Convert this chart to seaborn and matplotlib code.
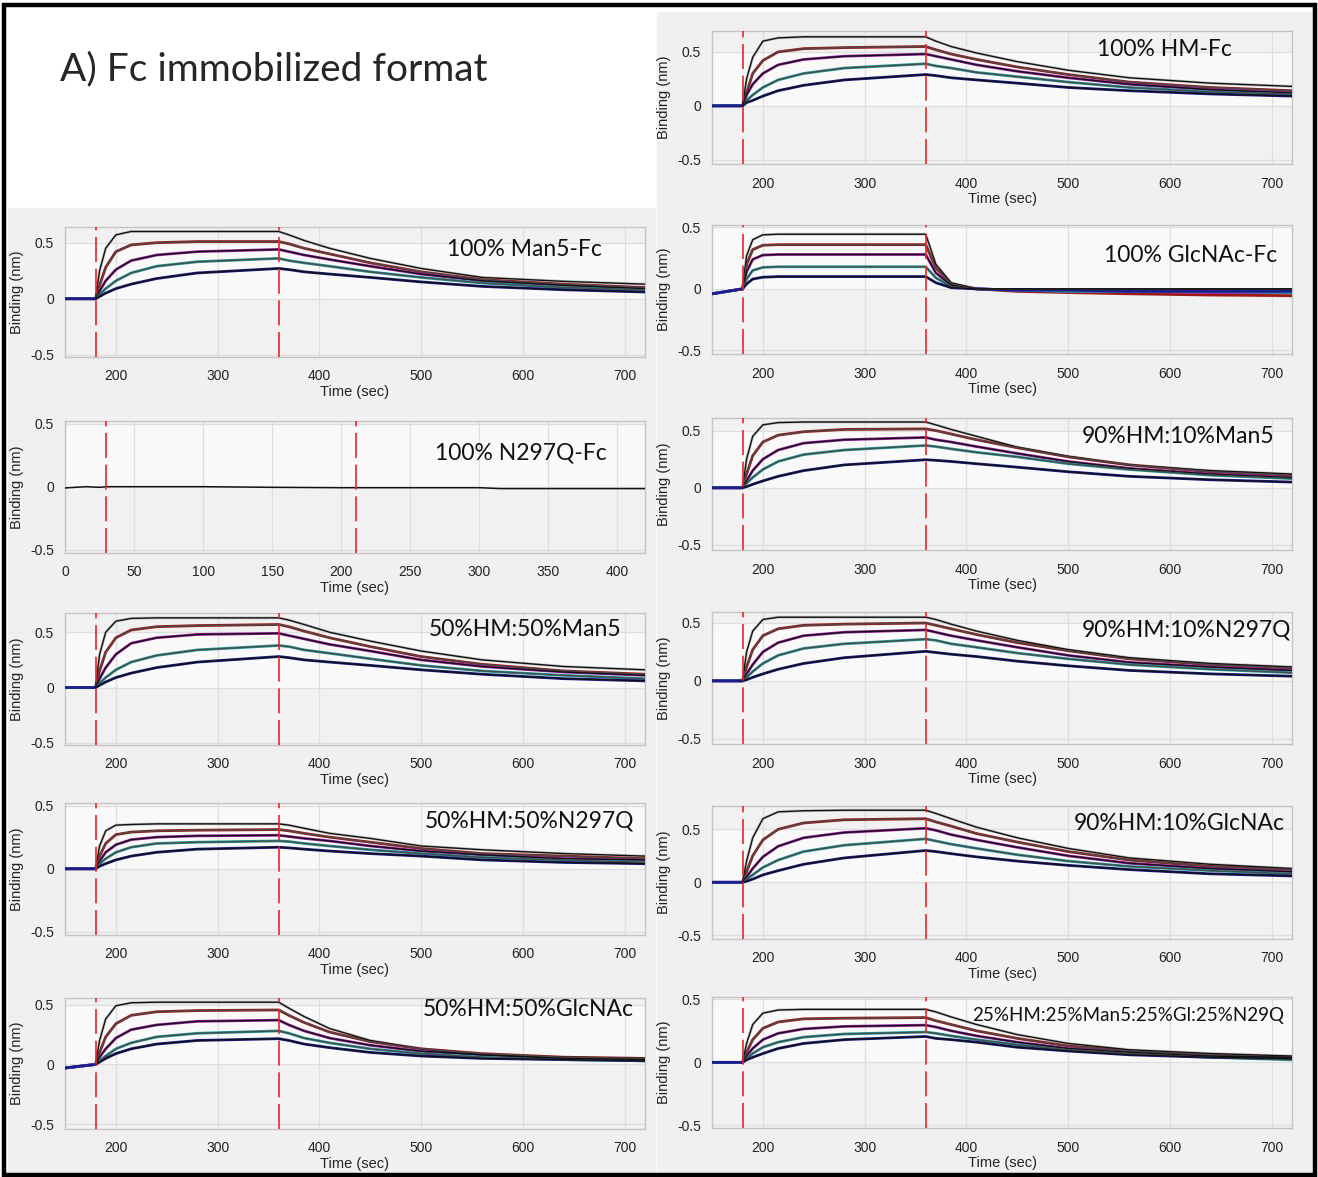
import numpy as np
import pandas as pd
import matplotlib
matplotlib.use('Agg')
import matplotlib.pyplot as plt
from matplotlib.patches import Rectangle
from matplotlib.ticker import MultipleLocator
import seaborn as sns

TIME = [150, 180, 184, 190, 200, 215, 240, 280, 360, 370, 385, 410, 450, 500, 560, 640, 720]

# binding (nm), five analyte concentrations per sensor
hm_fc = [
    [0, 0, 0.25, 0.45, 0.60, 0.63, 0.64, 0.64, 0.64, 0.60, 0.55, 0.49, 0.41, 0.33, 0.26, 0.21, 0.18],
    [0, 0, 0.12, 0.30, 0.42, 0.50, 0.53, 0.54, 0.55, 0.52, 0.48, 0.43, 0.36, 0.29, 0.22, 0.17, 0.14],
    [0, 0, 0.10, 0.20, 0.30, 0.38, 0.43, 0.46, 0.48, 0.46, 0.43, 0.38, 0.32, 0.26, 0.20, 0.15, 0.12],
    [0, 0, 0.05, 0.10, 0.17, 0.24, 0.30, 0.35, 0.39, 0.37, 0.35, 0.31, 0.27, 0.22, 0.17, 0.13, 0.11],
    [0, 0, 0.03, 0.05, 0.09, 0.14, 0.19, 0.24, 0.29, 0.28, 0.26, 0.24, 0.21, 0.17, 0.14, 0.11, 0.09],
]
man5_fc = [
    [0, 0, 0.25, 0.45, 0.57, 0.60, 0.60, 0.60, 0.60, 0.57, 0.52, 0.45, 0.36, 0.27, 0.19, 0.155, 0.13],
    [0, 0, 0.12, 0.28, 0.42, 0.48, 0.50, 0.51, 0.51, 0.49, 0.45, 0.40, 0.32, 0.24, 0.17, 0.13, 0.10],
    [0, 0, 0.07, 0.16, 0.26, 0.34, 0.39, 0.42, 0.44, 0.42, 0.39, 0.35, 0.29, 0.22, 0.16, 0.12, 0.09],
    [0, 0, 0.04, 0.09, 0.16, 0.23, 0.29, 0.33, 0.36, 0.34, 0.32, 0.29, 0.24, 0.19, 0.14, 0.10, 0.08],
    [0, 0, 0.02, 0.05, 0.09, 0.13, 0.18, 0.23, 0.27, 0.26, 0.24, 0.22, 0.19, 0.15, 0.11, 0.08, 0.06],
]
glcnac_fc = [
    [-0.04, 0, 0.27, 0.40, 0.44, 0.445, 0.445, 0.445, 0.445, 0.20, 0.05, 0.0, -0.01, -0.02, -0.03, -0.04, -0.06],
    [-0.04, 0, 0.20, 0.32, 0.355, 0.36, 0.36, 0.36, 0.36, 0.17, 0.04, 0.0, -0.02, -0.03, -0.04, -0.05, -0.055],
    [-0.04, 0, 0.14, 0.24, 0.275, 0.28, 0.28, 0.28, 0.28, 0.13, 0.03, 0.0, -0.01, -0.02, -0.02, -0.03, -0.03],
    [-0.04, 0, 0.08, 0.15, 0.175, 0.18, 0.18, 0.18, 0.18, 0.09, 0.02, 0.0, -0.01, -0.02, -0.02, -0.02, -0.03],
    [-0.04, 0, 0.04, 0.08, 0.095, 0.10, 0.10, 0.10, 0.10, 0.05, 0.01, 0.0, -0.01, -0.01, -0.02, -0.02, -0.02],
]
hm90_man5 = [
    [0, 0, 0.25, 0.45, 0.55, 0.57, 0.575, 0.575, 0.575, 0.55, 0.51, 0.45, 0.355, 0.275, 0.20, 0.15, 0.12],
    [0, 0, 0.12, 0.28, 0.40, 0.46, 0.49, 0.51, 0.515, 0.50, 0.47, 0.42, 0.35, 0.27, 0.20, 0.14, 0.11],
    [0, 0, 0.06, 0.15, 0.25, 0.33, 0.39, 0.42, 0.44, 0.42, 0.40, 0.36, 0.30, 0.23, 0.17, 0.12, 0.09],
    [0, 0, 0.04, 0.09, 0.16, 0.23, 0.29, 0.33, 0.37, 0.36, 0.34, 0.31, 0.27, 0.21, 0.16, 0.11, 0.08],
    [0, 0, 0.01, 0.03, 0.06, 0.10, 0.15, 0.20, 0.245, 0.24, 0.23, 0.21, 0.18, 0.14, 0.10, 0.07, 0.05],
]
hm50_man5 = [
    [0, 0, 0.30, 0.50, 0.60, 0.625, 0.63, 0.63, 0.63, 0.61, 0.57, 0.50, 0.42, 0.33, 0.25, 0.19, 0.16],
    [0, 0, 0.15, 0.32, 0.45, 0.52, 0.55, 0.56, 0.57, 0.55, 0.51, 0.45, 0.37, 0.28, 0.21, 0.15, 0.12],
    [0, 0, 0.08, 0.18, 0.30, 0.40, 0.45, 0.48, 0.49, 0.47, 0.44, 0.39, 0.33, 0.25, 0.19, 0.14, 0.11],
    [0, 0, 0.04, 0.09, 0.16, 0.23, 0.29, 0.34, 0.38, 0.37, 0.34, 0.31, 0.26, 0.20, 0.15, 0.11, 0.08],
    [0, 0, 0.02, 0.05, 0.09, 0.13, 0.18, 0.23, 0.28, 0.27, 0.25, 0.23, 0.20, 0.16, 0.12, 0.08, 0.06],
]
hm90_n297q = [
    [0, 0, 0.25, 0.43, 0.53, 0.55, 0.55, 0.55, 0.55, 0.53, 0.49, 0.43, 0.35, 0.27, 0.20, 0.15, 0.12],
    [0, 0, 0.12, 0.27, 0.39, 0.45, 0.48, 0.49, 0.50, 0.48, 0.45, 0.40, 0.33, 0.26, 0.19, 0.14, 0.11],
    [0, 0, 0.06, 0.14, 0.25, 0.33, 0.39, 0.42, 0.44, 0.42, 0.39, 0.35, 0.29, 0.22, 0.16, 0.12, 0.09],
    [0, 0, 0.03, 0.08, 0.15, 0.22, 0.28, 0.32, 0.36, 0.35, 0.32, 0.29, 0.24, 0.19, 0.14, 0.10, 0.07],
    [0, 0, 0.01, 0.03, 0.06, 0.10, 0.15, 0.20, 0.255, 0.245, 0.23, 0.21, 0.17, 0.13, 0.09, 0.06, 0.04],
]
hm50_n297q = [
    [0, 0, 0.18, 0.30, 0.345, 0.35, 0.355, 0.355, 0.355, 0.345, 0.32, 0.28, 0.24, 0.18, 0.15, 0.12, 0.10],
    [0, 0, 0.10, 0.20, 0.27, 0.29, 0.30, 0.305, 0.31, 0.30, 0.28, 0.25, 0.21, 0.16, 0.12, 0.10, 0.08],
    [0, 0, 0.06, 0.13, 0.19, 0.23, 0.25, 0.26, 0.265, 0.255, 0.24, 0.22, 0.18, 0.14, 0.11, 0.08, 0.07],
    [0, 0, 0.04, 0.08, 0.13, 0.17, 0.20, 0.21, 0.22, 0.215, 0.20, 0.18, 0.15, 0.12, 0.09, 0.07, 0.05],
    [0, 0, 0.02, 0.04, 0.07, 0.10, 0.13, 0.155, 0.17, 0.165, 0.155, 0.14, 0.12, 0.10, 0.07, 0.05, 0.04],
]
hm90_glcnac = [
    [0, 0, 0.20, 0.42, 0.60, 0.665, 0.675, 0.68, 0.68, 0.65, 0.60, 0.52, 0.42, 0.32, 0.23, 0.17, 0.13],
    [0, 0, 0.10, 0.25, 0.40, 0.50, 0.56, 0.59, 0.60, 0.57, 0.53, 0.46, 0.38, 0.29, 0.21, 0.15, 0.12],
    [0, 0, 0.05, 0.13, 0.24, 0.34, 0.42, 0.47, 0.51, 0.49, 0.45, 0.40, 0.33, 0.25, 0.18, 0.13, 0.10],
    [0, 0, 0.03, 0.07, 0.14, 0.21, 0.29, 0.35, 0.41, 0.39, 0.36, 0.32, 0.26, 0.20, 0.15, 0.11, 0.08],
    [0, 0, 0.01, 0.03, 0.07, 0.11, 0.17, 0.23, 0.30, 0.29, 0.27, 0.24, 0.20, 0.16, 0.12, 0.08, 0.06],
]
hm50_glcnac = [
    [-0.03, 0, 0.20, 0.38, 0.49, 0.515, 0.52, 0.52, 0.52, 0.47, 0.40, 0.30, 0.20, 0.13, 0.08, 0.06, 0.05],
    [-0.03, 0, 0.10, 0.23, 0.34, 0.41, 0.44, 0.45, 0.455, 0.41, 0.35, 0.27, 0.19, 0.13, 0.09, 0.06, 0.05],
    [-0.03, 0, 0.06, 0.13, 0.22, 0.29, 0.33, 0.36, 0.37, 0.33, 0.28, 0.22, 0.16, 0.11, 0.08, 0.05, 0.04],
    [-0.03, 0, 0.03, 0.07, 0.13, 0.18, 0.23, 0.26, 0.28, 0.26, 0.22, 0.18, 0.13, 0.09, 0.06, 0.04, 0.03],
    [-0.03, 0, 0.02, 0.05, 0.09, 0.13, 0.17, 0.20, 0.215, 0.20, 0.17, 0.14, 0.10, 0.07, 0.05, 0.04, 0.03],
]
mix25 = [
    [0, 0, 0.15, 0.30, 0.39, 0.415, 0.42, 0.42, 0.42, 0.40, 0.36, 0.30, 0.22, 0.15, 0.10, 0.07, 0.05],
    [0, 0, 0.08, 0.18, 0.27, 0.32, 0.345, 0.35, 0.355, 0.33, 0.30, 0.25, 0.19, 0.13, 0.09, 0.06, 0.04],
    [0, 0, 0.05, 0.11, 0.18, 0.23, 0.265, 0.285, 0.295, 0.28, 0.25, 0.21, 0.16, 0.11, 0.08, 0.05, 0.04],
    [0, 0, 0.03, 0.07, 0.12, 0.16, 0.20, 0.225, 0.24, 0.23, 0.21, 0.18, 0.14, 0.10, 0.07, 0.04, 0.02],
    [0, 0, 0.02, 0.04, 0.07, 0.11, 0.15, 0.18, 0.205, 0.19, 0.18, 0.16, 0.12, 0.09, 0.06, 0.04, 0.03],
]

# N297Q-Fc sensor: flat trace on its own time axis
n297q_time = [0, 15, 25, 30, 100, 150, 200, 250, 300, 315, 350, 420]
n297q_nm = [-0.01, 0.0, -0.005, 0.0, 0.0, -0.005, -0.008, -0.008, -0.008, -0.015, -0.015, -0.015]

DATA_COLORS = ['#c4c4c4', '#a01818', '#a020a8', '#1f9c9c', '#1c1c8e']
FIT_COLORS = ['#111111', '#4a4a4a', '#111111', '#4a4a4a', '#111111']

sns.set_style('white')
plt.rcParams['font.family'] = ['Liberation Sans', 'DejaVu Sans']

W, H = 1318, 1177
fig = plt.figure(figsize=(W / 100, H / 100), dpi=100)
fig.patch.set_facecolor('white')


def px_rect(l, t, r, b):
    return [l / W, 1 - b / H, (r - l) / W, (b - t) / H]


# grey panel backgrounds (behind the axes) and the black frame
fig.patches.append(Rectangle((657 / W, 1 - 1173 / H), (1313 - 657) / W, (1173 - 12) / H,
                             transform=fig.transFigure, color='#f0f0f0', zorder=-2))
fig.patches.append(Rectangle((8 / W, 1 - 1173 / H), (655 - 8) / W, (1173 - 208) / H,
                             transform=fig.transFigure, color='#f0f0f0', zorder=-2))
fig.patches.append(Rectangle((4 / W, 1 - 1175 / H), (1315 - 4) / W, (1175 - 5) / H,
                             transform=fig.transFigure, fill=False, ec='black', lw=3.2, zorder=5))

fig.text(60 / W, 1 - 69 / H, 'A) Fc immobilized format', fontsize=28, family=['Lato', 'DejaVu Sans'],
         ha='left', va='center')

LEFT_X = (65, 645)
RIGHT_X = (712, 1292)

# (label, curves, column x-range, top px, bottom px, ylim, label right px, label centre px, label size)
panels = [
    ('100% HM-Fc', hm_fc, RIGHT_X, 31, 164, (-0.54, 0.694), 1232, 49, 16.5),
    ('100% Man5-Fc', man5_fc, LEFT_X, 227, 357, (-0.52, 0.64), 602, 249, 16.5),
    ('100% GlcNAc-Fc', glcnac_fc, RIGHT_X, 225, 354, (-0.53, 0.52), 1277, 255, 16.5),
    ('90%HM:10%Man5', hm90_man5, RIGHT_X, 418, 550, (-0.544, 0.61), 1274, 437, 16.5),
    ('50%HM:50%Man5', hm50_man5, LEFT_X, 613, 745, (-0.52, 0.674), 621, 630, 16.5),
    ('90%HM:10%N297Q', hm90_n297q, RIGHT_X, 612, 744, (-0.546, 0.595), 1291, 630, 16.5),
    ('50%HM:50%N297Q', hm50_n297q, LEFT_X, 803, 935, (-0.524, 0.52), 634, 821, 16.5),
    ('90%HM:10%GlcNAc', hm90_glcnac, RIGHT_X, 806, 939, (-0.535, 0.72), 1285, 824, 16.5),
    ('50%HM:50%GlcNAc', hm50_glcnac, LEFT_X, 998, 1129, (-0.54, 0.555), 634, 1010, 16.5),
    ('25%HM:25%Man5:25%Gl:25%N29Q', mix25, RIGHT_X, 997, 1128, (-0.52, 0.518), 1284, 1015, 13.5),
]


def style_axes(ax, ylim, xlim, xmajor, xminor):
    ax.set_xlim(*xlim)
    ax.set_ylim(*ylim)
    ax.set_facecolor('#f1f1f1')
    ax.axhspan(0, 0.5, color='#f9f9f9', zorder=0, lw=0)
    ax.xaxis.set_major_locator(MultipleLocator(xmajor))
    ax.xaxis.set_minor_locator(MultipleLocator(xminor))
    ax.yaxis.set_major_locator(MultipleLocator(0.5))
    ax.yaxis.set_minor_locator(MultipleLocator(0.1))
    ax.grid(True, which='major', color='#dedede', lw=0.9, zorder=0)
    ax.set_axisbelow(True)
    ax.tick_params(which='both', direction='in', colors='#a8a8a8', labelcolor='#222222',
                   labelsize=10, top=False, right=False)
    ax.tick_params(which='major', length=0, pad=9)
    ax.tick_params(which='minor', length=6, width=1.0)
    ax.tick_params(axis='y', which='major', pad=8)
    ax.set_yticks([-0.5, 0, 0.5])
    ax.set_yticklabels(['-0.5', '0', '0.5'])
    for s in ax.spines.values():
        s.set_color('#c4c4c4')
        s.set_linewidth(1.0)
    ax.set_xlabel('Time (sec)', fontsize=10.5, color='#222222', labelpad=1)
    ax.set_ylabel('Binding (nm)', fontsize=10.5, color='#222222', labelpad=4)


for label, curves, (xl, xr), top, bot, ylim, tx, ty, tsize in panels:
    ax = fig.add_axes(px_rect(xl, top, xr, bot))
    rows = []
    for ci, vals in enumerate(curves):
        for t, v in zip(TIME, vals):
            rows.append({'time': t, 'nm': v, 'curve': ci})
    df = pd.DataFrame(rows)
    sns.lineplot(data=df, x='time', y='nm', hue='curve', palette=DATA_COLORS, lw=2.0,
                 legend=False, estimator=None, ax=ax, zorder=3)
    fit = df[df['time'] >= 180].copy()
    fit['nm'] = fit['nm'].clip(lower=0)
    sns.lineplot(data=fit, x='time', y='nm', hue='curve', palette=FIT_COLORS, lw=1.0,
                 legend=False, estimator=None, ax=ax, zorder=4)
    for x in (180, 360):
        ax.axvline(x, color='#e8262a', lw=1.2, dashes=(15, 4), zorder=5)
    style_axes(ax, ylim, (150, 720), 100, 50)
    fig.text(tx / W, 1 - ty / H, label, fontsize=tsize, family=['Lato', 'DejaVu Sans'],
             ha='right', va='center', color='#111111')

# the N297Q-Fc sensor with its own time window
ax = fig.add_axes(px_rect(LEFT_X[0], 421, LEFT_X[1], 553))
sns.lineplot(x=n297q_time, y=n297q_nm, color='#111111', lw=1.1, ax=ax, zorder=4)
for x in (30, 211):
    ax.axvline(x, color='#e8262a', lw=1.2, dashes=(15, 4), zorder=5)
style_axes(ax, (-0.525, 0.52), (0, 420), 50, 10)
ax.tick_params(which='minor', length=5)
fig.text(607 / W, 1 - 453 / H, '100% N297Q-Fc', fontsize=16.5, family=['Lato', 'DejaVu Sans'],
         ha='right', va='center', color='#111111')

fig.savefig('out.png', dpi=100, facecolor='white')
